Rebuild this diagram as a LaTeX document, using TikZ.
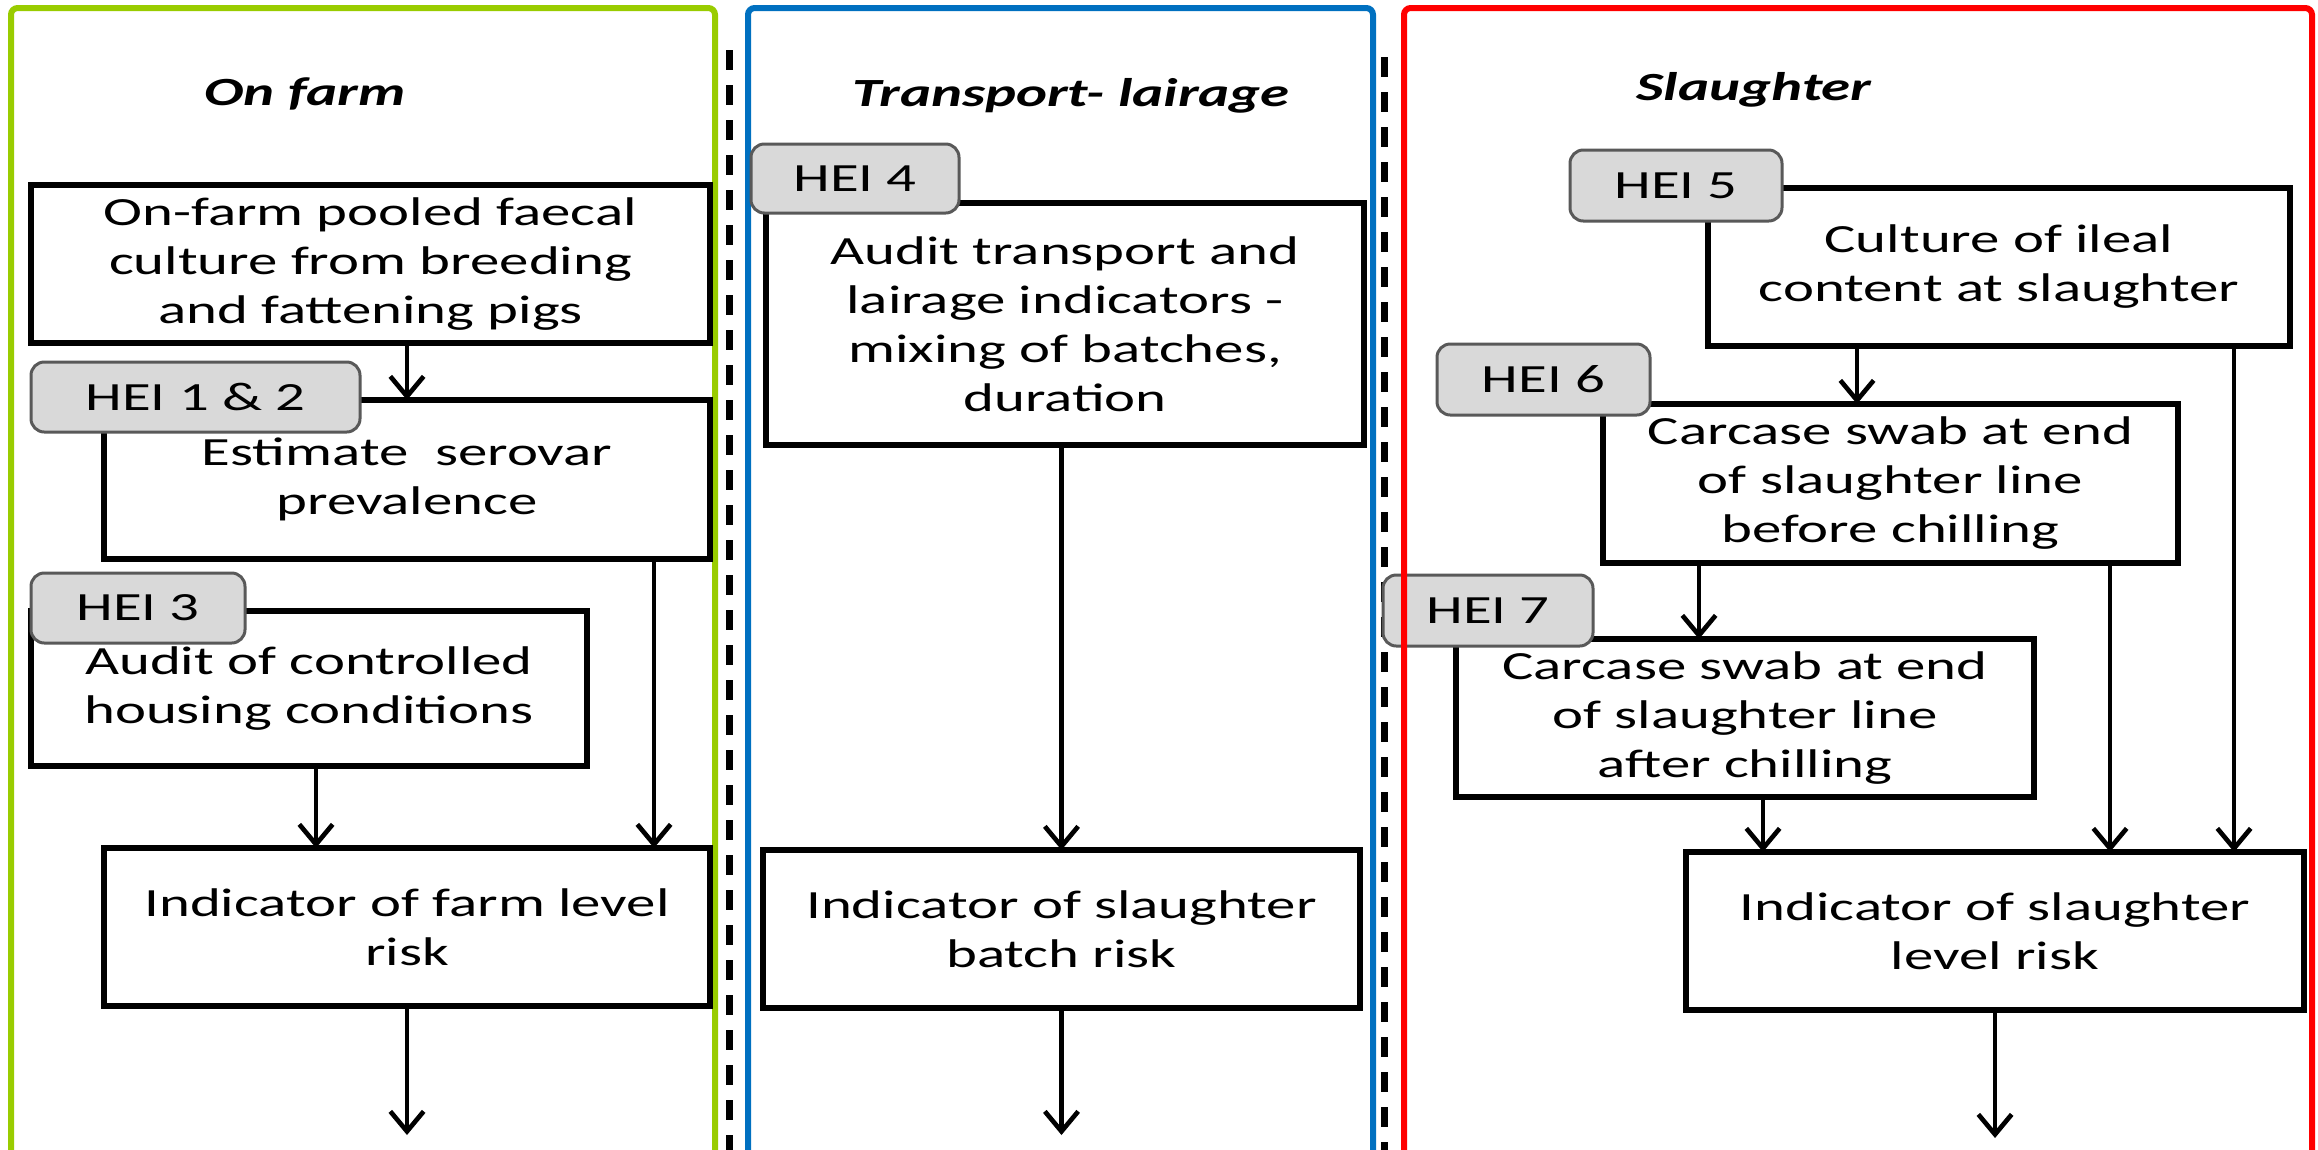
\documentclass[tikz,border=0pt]{standalone}
\usepackage{fontspec}
\setmainfont{Carlito}[FakeStretch=1.47]
\usetikzlibrary{arrows.meta}
\definecolor{gframe}{HTML}{99CC00}
\definecolor{bframe}{HTML}{0070C0}
\definecolor{rframe}{HTML}{FF0000}
\definecolor{tagfill}{HTML}{D9D9D9}
\definecolor{tagline}{HTML}{595959}
\begin{document}
\begin{tikzpicture}[x=0.3pt,y=-0.3pt,
  every node/.style={font=\fontsize{12pt}{14.7pt}\selectfont, inner sep=0pt, outer sep=0pt},
  flowbox/.style n args={2}{draw=black, fill=white, line width=1.6pt, align=center, minimum width=#1*0.3pt, minimum height=#2*0.3pt},
  hei/.style n args={2}{draw=tagline, fill=tagfill, line width=0.9pt, rounded corners=4pt, minimum width=#1*0.3pt, minimum height=#2*0.3pt},
  ttl/.style={font=\fontsize{12pt}{14.7pt}\selectfont\bfseries\itshape},
  arr/.style={line width=1.4pt, -{Straight Barb[length=6pt,width=10pt]}},
  panel/.style={line width=1.8pt, rounded corners=2pt},
  divider/.style={line width=2.1pt, dash pattern=on 6pt off 4.5pt},
]
\fill[white] (0,0) rectangle (2318,1149);
\useasboundingbox (0,0) rectangle (2318,1149);
\clip (0,0) rectangle (2318,1149);

% dividers
\draw[divider] (729,50) -- (729,1160);
\draw[divider] (1384,57) -- (1384,1160);

% panels (green, blue)
\draw[panel, draw=gframe] (11,1170) -- (11,8) -- (715,8) -- (715,1170);
\draw[panel, draw=bframe] (748,1170) -- (748,8) -- (1373,8) -- (1373,1170);

% titles
\node[ttl] (tfarm) at (305,94) {On farm};
\node[ttl] (ttrans) at (1071,96) {Transport- lairage};
\node[ttl] (tslau) at (1754,90) {Slaughter};

% boxes
\node[flowbox={679}{158}] (b1) at (370.5,264) {On-farm pooled faecal\\culture from breeding\\and fattening pigs};
\node[flowbox={606}{159}] (b2) at (407,479.5) {Estimate\ \ serovar\\prevalence};
\node[flowbox={556}{155}] (b3) at (309,688.5) {Audit of controlled\\housing conditions};
\node[flowbox={606}{158}] (b4) at (407,927) {Indicator of farm level\\risk};
\node[flowbox={598}{242}] (b5) at (1065,324) {Audit transport and\\lairage indicators -\\mixing of batches,\\duration};
\node[flowbox={597}{158}] (b6) at (1061.5,929) {Indicator of slaughter\\batch risk};
\node[flowbox={582}{158}] (b7) at (1999,267) {Culture of ileal\\content at slaughter};
\node[flowbox={575}{159}] (b8) at (1890.5,483.5) {Carcase swab at end\\of slaughter line\\before chilling};
\node[flowbox={578}{158}] (b9) at (1745,718) {Carcase swab at end\\of slaughter line\\after chilling};
\node[flowbox={618}{158}] (b10) at (1995,931) {Indicator of slaughter\\level risk};

% tags
\node[hei={329}{70}] (t12) at (195.5,397) {HEI 1 \& 2};
\node[hei={214}{70}] (t3) at (138,608) {HEI 3};
\node[hei={208}{69}] (t4) at (855,178.5) {HEI 4};
\node[hei={212}{71}] (t5) at (1676,185.5) {HEI 5};
\node[hei={213}{71}] (t6) at (1543.5,379.5) {HEI 6};
\node[hei={210}{71}] (t7) at (1488,610.5) {HEI 7};

% outputs
\coordinate (o1) at (407,1135);
\coordinate (o2) at (1061.5,1135);
\coordinate (o3) at (1995,1138);

% connectors
\draw[arr] (b2.north |- b1.south) -- (b2.north);
\draw[arr] ([xshift=74.1pt]b2.south) -- ([xshift=74.1pt]b4.north);
\draw[arr] ([xshift=2.1pt]b3.south) -- ([xshift=2.1pt]b3.south |- b4.north);
\draw[arr] (b4.south) -- (o1);
\draw[arr] (b6.north |- b5.south) -- (b6.north);
\draw[arr] (b6.south) -- (o2);
\draw[arr] ([xshift=-42.6pt]b7.south) -- ([xshift=-42.6pt]b7.south |- b8.north);
\draw[arr] ([xshift=70.5pt]b7.south) -- ([xshift=70.5pt]b7.south |- b10.north);
\draw[arr] ([xshift=-57.45pt]b8.south) -- ([xshift=-57.45pt]b8.south |- b9.north);
\draw[arr] ([xshift=65.85pt]b8.south) -- ([xshift=65.85pt]b8.south |- b10.north);
\draw[arr] ([xshift=5.4pt]b9.south) -- ([xshift=5.4pt]b9.south |- b10.north);
\draw[arr] (b10.south) -- (o3);

% red panel on top
\draw[panel, draw=rframe] (1404,1170) -- (1404,8) -- (2312,8) -- (2312,1170);
\end{tikzpicture}
\end{document}
